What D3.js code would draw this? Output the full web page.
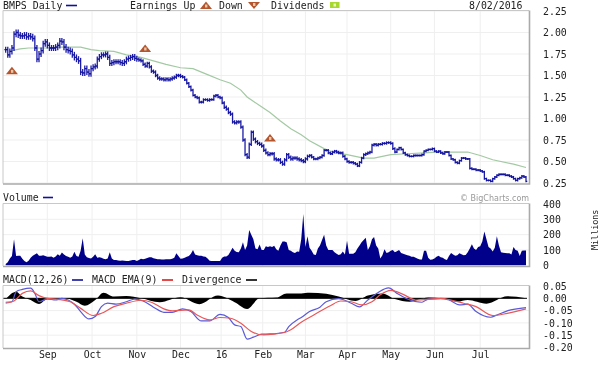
<!DOCTYPE html>
<html>
<head>
<meta charset="utf-8">
<script src="https://cdnjs.cloudflare.com/ajax/libs/d3/7.8.5/d3.min.js"></script>
<style>
  html, body { margin: 0; padding: 0; background: #fff; }
  svg { display: block; filter: blur(0.35px); }
  text { font-family: "DejaVu Sans Mono", monospace; font-size: 9.9px; fill: #222; }
</style>
</head>
<body>
<svg width="606" height="365"></svg>
<script>
// closing price, one value per trading day
var closes = [1.80,1.74,1.78,1.82,1.98,2.00,1.97,1.96,1.96,1.97,1.95,1.96,1.95,1.93,1.82,1.69,1.75,1.79,1.87,1.89,
  1.85,1.82,1.82,1.82,1.83,1.85,1.90,1.89,1.83,1.80,1.79,1.78,1.74,1.71,1.69,1.67,1.54,1.53,1.58,1.54,
  1.52,1.58,1.60,1.61,1.69,1.72,1.74,1.74,1.75,1.71,1.64,1.65,1.66,1.66,1.66,1.65,1.64,1.66,1.69,1.70,
  1.71,1.72,1.70,1.69,1.68,1.67,1.63,1.61,1.64,1.60,1.55,1.54,1.50,1.47,1.46,1.46,1.45,1.46,1.45,1.46,
  1.47,1.48,1.50,1.50,1.49,1.48,1.45,1.41,1.37,1.33,1.27,1.25,1.24,1.19,1.19,1.22,1.22,1.21,1.22,1.22,
  1.26,1.27,1.25,1.24,1.18,1.13,1.11,1.07,1.05,0.96,0.95,0.96,0.96,0.90,0.75,0.58,0.55,0.70,0.84,0.76,
  0.73,0.71,0.70,0.68,0.63,0.60,0.58,0.59,0.59,0.53,0.52,0.52,0.49,0.47,0.52,0.58,0.55,0.53,0.54,0.54,
  0.53,0.52,0.51,0.50,0.53,0.56,0.57,0.55,0.53,0.53,0.54,0.55,0.57,0.63,0.63,0.60,0.59,0.61,0.62,0.61,
  0.60,0.60,0.56,0.53,0.50,0.49,0.49,0.48,0.47,0.45,0.49,0.54,0.58,0.59,0.60,0.61,0.69,0.70,0.69,0.70,
  0.70,0.71,0.71,0.72,0.72,0.71,0.65,0.61,0.64,0.66,0.64,0.60,0.58,0.57,0.56,0.56,0.57,0.57,0.57,0.57,
  0.58,0.62,0.63,0.64,0.64,0.65,0.62,0.61,0.62,0.60,0.59,0.61,0.61,0.57,0.53,0.52,0.49,0.48,0.51,0.54,
  0.54,0.53,0.53,0.42,0.41,0.41,0.40,0.40,0.39,0.38,0.30,0.28,0.28,0.27,0.30,0.32,0.34,0.35,0.35,0.35,
  0.34,0.34,0.33,0.32,0.30,0.28,0.30,0.31,0.33,0.32,0.27];

// typical daily high-low spread read for each month of the chart
var monthStartDays = [0, 20, 42, 64, 85, 105, 125, 146, 167, 188, 209, 230];
var monthSpread = [0.035, 0.035, 0.03, 0.02, 0.015, 0.02, 0.02, 0.015, 0.015, 0.012, 0.012, 0.012];

// moving average line
var smaDays = [3,7,11,15,20,26,33,36,41,45,52,58,65,71,77,84,90,97,103,108,113,116,122,127,132,137,142,146,153,158,164,172,177,185,193,201,207,214,222,228,234,244,250];
var smaValues = [1.79,1.81,1.82,1.82,1.82,1.83,1.83,1.83,1.80,1.79,1.78,1.74,1.71,1.67,1.63,1.59,1.58,1.51,1.45,1.41,1.33,1.25,1.15,1.07,0.97,0.88,0.81,0.74,0.65,0.60,0.58,0.54,0.54,0.58,0.59,0.60,0.61,0.61,0.61,0.57,0.52,0.47,0.43];

// volume in millions, one value per trading day
var volumes = [8,20,45,60,170,60,62,62,42,28,20,30,50,62,70,78,62,62,66,60,
  56,56,58,50,58,72,62,83,70,60,55,50,58,88,60,55,95,176,70,52,
  48,45,55,72,50,52,50,42,40,45,85,45,35,35,32,30,32,30,28,28,
  32,35,35,28,35,42,40,42,48,52,52,46,42,40,40,38,38,40,40,40,
  42,50,78,60,42,44,50,55,60,75,100,70,65,62,63,58,56,45,30,28,
  28,28,28,28,50,58,58,68,90,115,95,86,85,110,150,100,130,230,200,170,
  110,105,135,100,100,125,120,125,120,128,105,95,130,155,155,150,100,95,85,80,
  90,88,170,335,120,190,115,95,70,68,110,130,165,200,130,100,100,100,85,75,
  68,72,90,70,160,75,75,75,85,110,130,150,165,180,100,125,170,185,130,110,
  45,65,105,80,85,95,100,85,92,100,80,76,70,65,62,55,55,50,42,38,
  38,95,95,50,36,38,45,55,62,52,50,40,35,60,80,70,62,65,78,72,
  65,68,85,110,138,110,100,120,125,155,220,170,120,110,90,115,190,130,85,82,
  80,78,78,70,120,100,95,60,95,96,96];

// MACD lines
var macdDays = [0,3,5,8,12,14,16,20,24,27,30,33,36,40,43,46,49,53,58,62,66,71,76,80,85,89,94,98,103,107,110,113,116,119,123,127,134,136,140,142,146,151,154,160,166,170,174,179,184,188,193,200,203,209,213,218,222,226,233,236,241,250];
var macdValues = [-0.016,-0.014,0.027,0.036,0.041,0.020,-0.014,-0.003,-0.007,0,-0.007,-0.024,-0.054,-0.084,-0.074,-0.034,-0.020,-0.024,-0.014,-0.003,-0.011,-0.036,-0.057,-0.057,-0.043,-0.054,-0.092,-0.092,-0.065,-0.078,-0.108,-0.115,-0.166,-0.158,-0.146,-0.145,-0.138,-0.115,-0.088,-0.078,-0.054,-0.036,-0.014,-0.001,-0.020,-0.035,-0.007,0.024,0.042,0.020,-0.003,-0.016,-0.003,-0.001,-0.007,-0.027,-0.024,-0.054,-0.077,-0.068,-0.051,-0.038];
var emaDays = [0,4,8,12,16,20,25,31,36,42,46,52,58,65,70,76,80,88,92,98,103,108,113,118,124,134,137,142,148,156,161,166,171,176,180,185,191,197,203,209,214,220,226,234,241,250];
var emaValues = [-0.020,-0.011,0.020,0.030,0.011,0,-0.004,-0.014,-0.041,-0.070,-0.061,-0.034,-0.020,-0.008,-0.016,-0.043,-0.051,-0.047,-0.068,-0.088,-0.078,-0.081,-0.101,-0.135,-0.149,-0.139,-0.128,-0.097,-0.068,-0.030,-0.011,-0.014,-0.027,-0.014,0.014,0.032,0.016,-0.007,-0.004,0,-0.007,-0.020,-0.034,-0.070,-0.061,-0.043];
var divDays = [0,5,8,12,16,20,28,34,38,43,47,52,58,65,74,84,93,102,110,116,122,130,135,142,146,154,160,168,174,181,187,194,203,210,217,222,231,241,250];
var divValues = [-0.003,0.027,0.007,-0.007,-0.023,-0.003,0,-0.014,-0.030,-0.007,0.023,0.007,0.009,0,-0.016,0.004,-0.024,0.011,-0.016,-0.043,0,0.003,0.020,0.020,0.023,0.018,0.007,-0.011,0.011,0.020,-0.003,-0.014,0.003,0,-0.014,-0.007,-0.022,0.008,0];

// x axis month labels and the trading day they sit on
var monthLabels = ['Sep','Oct','Nov','Dec','16','Feb','Mar','Apr','May','Jun','Jul'];
var monthDays = [20,41.5,63,84,103.5,123.5,144,164,185,206,228];

var priceTicks = [0.25,0.5,0.75,1,1.25,1.5,1.75,2,2.25];
var volumeTicks = [0,100,200,300,400];
var macdTicks = [0.05,0,-0.05,-0.10,-0.15,-0.20];

// earnings markers: trading day and the price level they sit at
var earningsDays = [3, 67, 127];
var earningsLevels = [1.56, 1.82, 0.78];

var navy = '#10109a', grey = '#c8c8c8', gridCol = '#efefef';
var svg = d3.select('svg');

var x = d3.scaleLinear().domain([0, 250]).range([5.7, 526]);
var yPrice = d3.scaleLinear().domain([0.25, 2.25]).range([183, 11]);
var yVol = d3.scaleLinear().domain([0, 400]).range([265.3, 204]);
var yMacd = d3.scaleLinear().domain([-0.20, 0.05]).range([347.5, 286]);

function panel(top, bottom, yScale, ticks) {
  var g = svg.append('g');
  g.append('rect').attr('x', 3).attr('y', top).attr('width', 527).attr('height', bottom - top)
    .attr('fill', '#fff');
  g.selectAll('.hgrid').data(ticks).enter().append('line')
    .attr('x1', 3).attr('x2', 529)
    .attr('y1', function (d) { return yScale(d); })
    .attr('y2', function (d) { return yScale(d); })
    .attr('stroke', gridCol);
  g.selectAll('.vgrid').data(monthDays).enter().append('line')
    .attr('x1', function (d) { return x(d); })
    .attr('x2', function (d) { return x(d); })
    .attr('y1', top).attr('y2', bottom)
    .attr('stroke', gridCol);
  return g;
}

function frame(top, bottom) {
  // light top and left edge, heavier shadow on the right and bottom
  svg.append('path').attr('d', 'M3,' + bottom + 'V' + top + 'H529')
    .attr('fill', 'none').attr('stroke', grey).attr('stroke-width', 1);
  svg.append('path').attr('d', 'M529.5,' + top + 'V' + (bottom + 0.5) + 'H3')
    .attr('fill', 'none').attr('stroke', '#aaa').attr('stroke-width', 1.6);
}

function rightAxis(scale, ticks, fmt) {
  var axis = d3.axisRight(scale).tickValues(ticks).tickSize(0).tickPadding(0).tickFormat(fmt);
  var g = svg.append('g').attr('transform', 'translate(543,0)').call(axis);
  g.select('.domain').remove();
  g.selectAll('text').attr('fill', '#222').attr('x', 0);
}

// price panel
panel(10.5, 183.5, yPrice, priceTicks);
var sma = d3.line()
  .x(function (d) { return x(d); })
  .y(function (d, i) { return yPrice(smaValues[i]); });
svg.append('path').attr('d', sma(smaDays)).attr('fill', 'none')
  .attr('stroke', '#a3c9a3').attr('stroke-width', 1.2);

var spreadAt = d3.scaleThreshold().domain(monthStartDays.slice(1)).range(monthSpread);
var bars = svg.append('g').attr('stroke', navy).attr('fill', 'none');
closes.forEach(function (c, i) {
  var open = i ? closes[i - 1] : c;
  var s = spreadAt(i);
  var px = x(i);
  bars.append('line').attr('x1', px).attr('x2', px)
    .attr('y1', yPrice(Math.max(open, c) + s)).attr('y2', yPrice(Math.min(open, c) - s))
    .attr('stroke-width', 1.3).attr('stroke', '#1c1ca8');
  bars.append('line').attr('x1', px - 1.3).attr('x2', px)
    .attr('y1', yPrice(open)).attr('y2', yPrice(open)).attr('stroke-width', 1.3);
  bars.append('line').attr('x1', px).attr('x2', px + 1.3)
    .attr('y1', yPrice(c)).attr('y2', yPrice(c)).attr('stroke-width', 1.3);
});

// earnings triangles
function triangle(g, cx, cy, up) {
  var d = up ? 'M' + (cx - 6) + ',' + (cy + 4) + 'L' + cx + ',' + (cy - 3.5) + 'L' + (cx + 6) + ',' + (cy + 4) + 'Z'
             : 'M' + (cx - 6) + ',' + (cy - 3) + 'L' + cx + ',' + (cy + 4) + 'L' + (cx + 6) + ',' + (cy - 3) + 'Z';
  g.append('path').attr('d', d).attr('fill', '#b4552d');
  g.append('rect').attr('x', cx - 1).attr('y', cy - (up ? 0.5 : 2)).attr('width', 2.4).attr('height', 3)
    .attr('fill', '#e8c8a8');
}
var marks = svg.append('g');
earningsDays.forEach(function (d, i) {
  triangle(marks, x(d), yPrice(earningsLevels[i]), true);
});
frame(10.5, 183.5);
rightAxis(yPrice, priceTicks, d3.format('.2f'));

// header legend
function label(txt, px, py, col) {
  return svg.append('text').attr('x', px).attr('y', py).text(txt).attr('fill', col || '#222').style('fill', col || '#222');
}
function swatch(x1, x2, py, col) {
  svg.append('line').attr('x1', x1).attr('x2', x2).attr('y1', py).attr('y2', py)
    .attr('stroke', col).attr('stroke-width', 1.6);
}
label('BMPS Daily', 3, 8.5);
swatch(66, 77, 5.5, navy);
label('Earnings Up', 130, 8.5);
triangle(svg, 206, 5, true);
label('Down', 219, 8.5);
triangle(svg, 254, 5, false);
label('Dividends', 271, 8.5);
svg.append('rect').attr('x', 330).attr('y', 2).attr('width', 9.5).attr('height', 6).attr('fill', '#a8d830');
svg.append('rect').attr('x', 333.5).attr('y', 3.5).attr('width', 2.5).attr('height', 3).attr('fill', '#e8f4c0');
label('8/02/2016', 469, 8.5);

// volume panel
panel(203.5, 266, yVol, [100, 200, 300]);
var volArea = d3.area()
  .x(function (d, i) { return x(i); })
  .y0(yVol(0))
  .y1(function (d) { return yVol(d); });
svg.append('path').attr('d', volArea(volumes)).attr('fill', '#00008b');
frame(203.5, 266);
rightAxis(yVol, volumeTicks, d3.format('d'));
label('Volume', 3, 200.5);
swatch(43, 53, 197.5, navy);
label('\u00a9 BigCharts.com', 460, 200.5, '#999')
  .style('font-family', '"DejaVu Sans", sans-serif').style('font-size', '8px');
svg.append('text').attr('transform', 'translate(598,250) rotate(-90)').text('Millions')
  .style('font-size', '8.4px');

// MACD panel
panel(285.5, 348, yMacd, [-0.05, -0.10, -0.15]);
var divArea = d3.area()
  .x(function (d) { return x(d); })
  .y0(yMacd(0))
  .y1(function (d, i) { return yMacd(divValues[i]); })
  .curve(d3.curveMonotoneX);
svg.append('path').attr('d', divArea(divDays)).attr('fill', '#000');
svg.append('line').attr('x1', 3).attr('x2', 527).attr('y1', yMacd(0)).attr('y2', yMacd(0))
  .attr('stroke', '#000').attr('stroke-width', 1);
var macdLine = d3.line()
  .x(function (d) { return x(d); })
  .y(function (d, i) { return yMacd(macdValues[i]); })
  .curve(d3.curveMonotoneX);
var emaLine = d3.line()
  .x(function (d) { return x(d); })
  .y(function (d, i) { return yMacd(emaValues[i]); })
  .curve(d3.curveMonotoneX);
svg.append('path').attr('d', macdLine(macdDays)).attr('fill', 'none')
  .attr('stroke', '#5a5ad8').attr('stroke-width', 1.2);
svg.append('path').attr('d', emaLine(emaDays)).attr('fill', 'none')
  .attr('stroke', '#e85858').attr('stroke-width', 1.2);
frame(285.5, 348);
rightAxis(yMacd, macdTicks, function (d) {
  return d3.format('.2f')(d).replace('\u2212', '-');
});
label('MACD(12,26)', 3, 283);
swatch(72, 83, 280, navy);
label('MACD EMA(9)', 92, 283);
swatch(162, 173, 280, '#e01818');
label('Divergence', 182, 283);
swatch(246, 257, 280, '#000');

// month labels along the bottom
var xAxis = d3.axisBottom(x).tickValues(monthDays).tickSize(0).tickPadding(0)
  .tickFormat(function (d, i) { return monthLabels[i]; });
var xg = svg.append('g').attr('transform', 'translate(0,349)').call(xAxis);
xg.select('.domain').remove();
xg.selectAll('text').attr('fill', '#222').attr('y', 1.5);
</script>
</body>
</html>
